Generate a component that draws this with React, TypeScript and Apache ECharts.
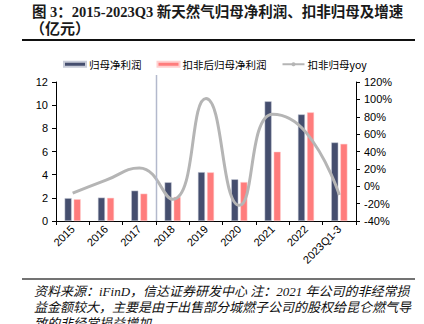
import React, { useEffect, useRef } from "react";
import * as echarts from "echarts";

const categories = ["2015", "2016", "2017", "2018", "2019", "2020", "2021", "2022", "2023Q1-3"];
const netProfit = [1.97, 2.02, 2.62, 3.34, 4.22, 3.6, 10.33, 9.2, 6.78];
const deductedProfit = [1.88, 2.0, 2.36, 2.08, 4.2, 3.36, 5.98, 9.38, 6.66];
const deductedYoy = [-8, 7, 21, -15, 101, -22, 83, 62, -10];
const leftTicks = { min: 0, max: 12, interval: 2 };
const rightTicks = { min: -40, max: 120, interval: 20 };

const titleLine1 = "图 3：2015-2023Q3 新天然气归母净利润、扣非归母及增速";
const titleLine2 = "（亿元）";
const noteLines = [
  "资料来源：iFinD，信达证券研发中心 注：2021 年公司的非经常损",
  "益金额较大，主要是由于出售部分城燃子公司的股权给昆仑燃气导",
  "致的非经常损益增加",
];

export default function App() {
  const ref = useRef<HTMLDivElement>(null);
  useEffect(() => {
    if (!ref.current) return;
    const chart = echarts.init(ref.current, null, { renderer: "svg" });
    const axisFont = { color: "#000", fontSize: 11, fontFamily: "Liberation Sans, Arial, sans-serif" };
    const titleFont = "Liberation Serif, 'Noto Sans CJK SC', serif";
    const noteFont = "Liberation Serif, 'Noto Sans CJK SC', serif";
    const option: any = {
      animation: false,
      backgroundColor: "#fff",
      legend: {
        top: 54,
        left: 58,
        itemWidth: 22,
        itemHeight: 5,
        itemGap: 15,
        textStyle: { color: "#000", fontSize: 10.5, fontFamily: "'Noto Sans CJK SC', sans-serif", padding: [0, 0, 0, -2] },
        data: [
          { name: "归母净利润", icon: "rect" },
          { name: "扣非后归母净利润", icon: "rect" },
          { name: "扣非归母yoy" },
        ],
      },
      grid: { left: 56, right: 68, top: 82, bottom: 103 },
      xAxis: {
        type: "category",
        data: categories,
        boundaryGap: true,
        axisLine: { lineStyle: { color: "#000", width: 1 } },
        axisTick: { show: true, alignWithLabel: false, length: 4, lineStyle: { color: "#000" } },
        axisLabel: { ...axisFont, rotate: 45, interval: 0, margin: 6 },
      },
      yAxis: [
        {
          type: "value",
          ...leftTicks,
          axisLine: { show: true, lineStyle: { color: "#000" } },
          axisTick: { show: true, length: 4, lineStyle: { color: "#000" } },
          axisLabel: { ...axisFont, margin: 8 },
          splitLine: { show: false },
        },
        {
          type: "value",
          ...rightTicks,
          position: "right",
          axisLine: { show: true, lineStyle: { color: "#000" } },
          axisTick: { show: true, length: 4, lineStyle: { color: "#000" } },
          axisLabel: { ...axisFont, margin: 8, formatter: (v: number) => v + "%" },
          splitLine: { show: false },
        },
      ],
      series: [
        {
          name: "归母净利润",
          type: "bar",
          data: netProfit,
          barWidth: 7,
          barGap: "30%",
          itemStyle: { color: "#454e6e", borderColor: "#c8ccd8", borderWidth: 0.5 },
        },
        {
          name: "扣非后归母净利润",
          type: "bar",
          data: deductedProfit,
          barWidth: 7,
          itemStyle: { color: "#ff7c7c", borderColor: "#ffd0d0", borderWidth: 0.5 },
        },
        {
          name: "扣非归母yoy",
          type: "line",
          yAxisIndex: 1,
          data: deductedYoy,
          smooth: 0.5,
          symbol: "none",
          lineStyle: { color: "#b5b5b5", width: 3 },
          itemStyle: { color: "#b5b5b5" },
        },
      ],
      graphic: [
        {
          type: "text",
          x: 32,
          y: 12,
          style: { text: titleLine1, font: `bold 14.5px ${titleFont}`, fill: "#1a1a1a", verticalAlign: "middle" },
        },
        {
          type: "text",
          x: 30,
          y: 29,
          style: { text: titleLine2, font: `bold 15px ${titleFont}`, fill: "#1a1a1a", verticalAlign: "middle" },
        },
        {
          type: "line",
          shape: { x1: 22, y1: 40, x2: 415, y2: 40 },
          style: { stroke: "#111", lineWidth: 2 },
        },
        {
          type: "line",
          shape: { x1: 22, y1: 279, x2: 415, y2: 279 },
          style: { stroke: "#444", lineWidth: 1.5 },
        },
        ...noteLines.map((t, i) => ({
          type: "text",
          x: 34,
          y: 291 + i * 16,
          style: { text: t, font: `italic 13px ${noteFont}`, fill: "#111", verticalAlign: "middle" },
        })),
      ],
    };
    chart.setOption(option);
    const x1 = chart.convertToPixel({ xAxisIndex: 0 }, categories[2]) as number;
    const x2 = chart.convertToPixel({ xAxisIndex: 0 }, categories[3]) as number;
    const yTop = chart.convertToPixel({ yAxisIndex: 0 }, leftTicks.max) as number;
    const yBot = chart.convertToPixel({ yAxisIndex: 0 }, leftTicks.min) as number;
    const xm = Math.round((x1 + x2) / 2) + 0.5;
    chart.setOption({
      graphic: [
        ...option.graphic,
        {
          type: "line",
          shape: { x1: xm, y1: yTop - 7, x2: xm, y2: yBot },
          style: { stroke: "#b3b9cc", lineWidth: 1.5 },
          z: 10,
        },
      ],
    });
    return () => chart.dispose();
  }, []);
  return <div ref={ref} style={{ position: "fixed", left: 0, top: 0, width: 424, height: 324 }} />;
}
